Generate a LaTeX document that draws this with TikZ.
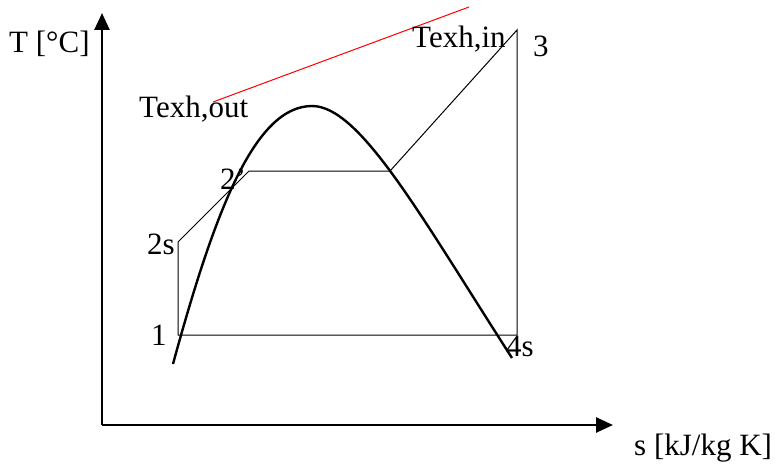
\documentclass[tikz,border=0pt]{standalone}
\usepackage{fontspec}
\setmainfont{Liberation Serif}
\usetikzlibrary{arrows.meta}
\begin{document}
\begin{tikzpicture}[x=1pt,y=-1pt,
  lbl/.style={anchor=base west,inner sep=0pt,font=\fontsize{31}{37}\selectfont},
  axis/.style={line width=2.6pt,-{Triangle[length=17pt,width=15pt]}},
  cyc/.style={line width=1pt},
  dome/.style={line width=2.4pt}]
\useasboundingbox (0,0) rectangle (775,465);
% axes
\coordinate (O) at (102,425);
\coordinate (ytip) at (102,13);
\coordinate (xtip) at (613,425);
\draw[axis] (O) -- (ytip);
\draw[axis] (O) -- (xtip);
% cycle points
\coordinate (p1) at (178,335);
\coordinate (p2s) at (178,242);
\coordinate (p2) at (249,171);
\coordinate (pv) at (390,171);
\coordinate (p3) at (517,30);
\coordinate (p4s) at (517,335);
\draw[cyc] (p1) -- (p2s) -- (p2) -- (pv) -- (p3) -- (p4s) -- cycle;
% exhaust line
\coordinate (eo) at (213,102);
\coordinate (ei) at (469,7);
\draw[red,line width=1pt] (eo) -- (ei);
% saturation dome
\coordinate (dl) at (173,364);
\coordinate (dp) at (312,106);
\coordinate (dr) at (512,358);
\draw[dome] (dl) .. controls (215,210) and (255,106) .. (dp)
  .. controls (360,106) and (420,215) .. (dr);
% labels
\node[lbl] (T) at (9,53) {T [°C]};
\node[lbl] (s) at (634,455) {s [kJ/kg K]};
\node[lbl] (texo) at (139,118) {Texh,out};
\node[lbl] (texi) at (412,48) {Texh,in};
\node[lbl] (l3) at (533,57) {3};
\node[lbl] (l2) at (220,189) {2’};
\node[lbl] (l2s) at (147,254) {2s};
\node[lbl] (l1) at (151,345) {1};
\node[lbl] (l4s) at (506,356) {4s};
\end{tikzpicture}
\end{document}
